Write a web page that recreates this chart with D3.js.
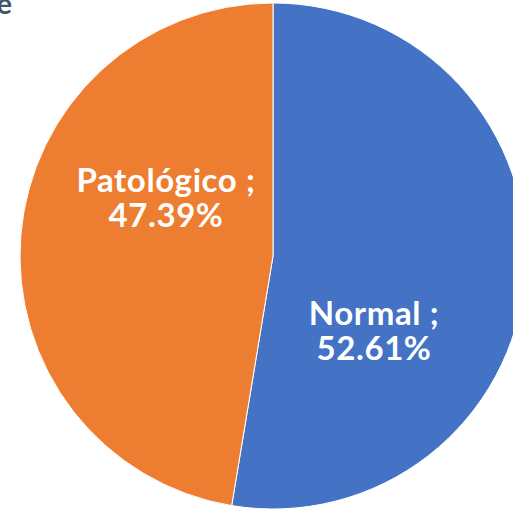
<!DOCTYPE html>
<html>
<head>
<meta charset="utf-8">
<script src="https://cdn.jsdelivr.net/npm/d3@7"></script>
<style>
  body { margin: 0; background: #fff; }
  svg { display: block; }
</style>
</head>
<body>
<div class="chart"></div>
<script>
// data
const categories = ['Normal', 'Patológico'];
const values = [52.61, 47.39];
const colors = ['#4472C4', '#ED7D31'];

const width = 513;
const height = 509;
const cx = 273, cy = 256, radius = 253;

// label anchor points (centre / baseline of first line) per slice
const labelPos = [[374, 325], [166, 192]];

const svg = d3.select('.chart')
  .append('svg')
    .attr('width', width)
    .attr('height', height);

// clipped title, only its last letter is visible
svg.append('text')
  .attr('x', 12)
  .attr('y', 14)
  .attr('text-anchor', 'end')
  .style('font-family', 'Lato, sans-serif')
  .style('font-weight', 'bold')
  .style('font-size', '29px')
  .style('fill', '#44546A')
  .text('e');

const g = svg.append('g')
  .attr('transform', `translate(${cx}, ${cy})`);

const pie = d3.pie().sort(null).value(d => d);
const arc = d3.arc().innerRadius(0).outerRadius(radius);

const arcs = pie(values);

g.selectAll('.slice')
  .data(arcs)
  .enter()
  .append('path')
    .attr('class', 'slice')
    .attr('d', arc)
    .style('fill', (d, i) => colors[i])
    .style('stroke', '#fff')
    .style('stroke-width', 1);

// labels
const labels = svg.selectAll('.label')
  .data(arcs)
  .enter()
  .append('text')
    .attr('class', 'label')
    .attr('text-anchor', 'middle')
    .style('font-family', 'Lato, sans-serif')
    .style('font-weight', 'bold')
    .style('font-size', '33px')
    .style('letter-spacing', '0.6px')
    .style('fill', '#fff');

labels.append('tspan')
  .attr('x', (d, i) => labelPos[i][0])
  .attr('y', (d, i) => labelPos[i][1])
  .text((d, i) => categories[i] + ' ;');

labels.append('tspan')
  .attr('x', (d, i) => labelPos[i][0])
  .attr('dy', 35)
  .text(d => d3.format('.2f')(d.data) + '%');
</script>
</body>
</html>
